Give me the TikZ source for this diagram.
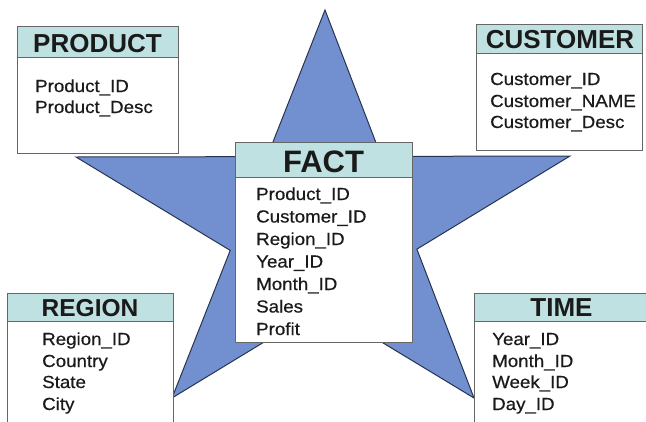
\documentclass[tikz,border=0pt]{standalone}
\usepackage{fontspec}
\setmainfont{Liberation Sans}
\newfontfamily\rowfont[FakeStretch=1.07,FakeBold=0.5]{Liberation Sans}
\definecolor{starfill}{HTML}{7290D0}
\definecolor{starline}{HTML}{28344F}
\definecolor{boxline}{HTML}{666666}
\definecolor{hdrfill}{HTML}{C0E1E1}
\definecolor{txt}{HTML}{1A1A1A}
\begin{document}
\begin{tikzpicture}[x=1pt,y=-1pt,
  tablebox/.style={draw=boxline, fill=white, line width=1.1pt, inner sep=0pt, anchor=north west},
  headbox/.style={draw=boxline, fill=hdrfill, line width=1.1pt, inner sep=0pt, anchor=north west},
  headtxt/.style={anchor=base, inner sep=0pt, text=txt, font=\bfseries\fontsize{#1}{#1}\selectfont},
  rowtxt/.style={anchor=base west, inner sep=0pt, text=txt, font=\rowfont\fontsize{17.5}{21}\selectfont}]
\useasboundingbox (0,0) rectangle (646,421);
\clip (0,0) rectangle (646,421);

% five outer points of the star
\coordinate (sT)  at (325,10);
\coordinate (sR)  at (570,156);
\coordinate (sBR) at (474,398);
\coordinate (sBL) at (172,398);
\coordinate (sL)  at (76,157);
% inner corners where the chords cross
\coordinate (iUR) at (intersection of sL--sR and sT--sBR);
\coordinate (iRL) at (intersection of sT--sBR and sR--sBL);
\coordinate (iB)  at (intersection of sR--sBL and sL--sBR);
\coordinate (iLL) at (intersection of sL--sBR and sT--sBL);
\coordinate (iUL) at (intersection of sT--sBL and sL--sR);
\draw[fill=starfill, draw=starline, line width=1pt, line join=miter]
  (sT) -- (iUR) -- (sR) -- (iRL) -- (sBR) -- (iB) -- (sBL) -- (iLL) -- (sL) -- (iUL) -- cycle;

% PRODUCT table
\node[tablebox, minimum width=161pt, minimum height=127pt] (product) at (17,26) {};
\node[headbox, minimum width=161pt, minimum height=31pt] (productHead) at (17,26) {};
\node[headtxt=26] (productTitle) at (97.5,52) {PRODUCT};
\node[rowtxt] (p1) at (35,92)  {Product\_ID};
\node[rowtxt] (p2) at (35,113) {Product\_Desc};

% CUSTOMER table
\node[tablebox, minimum width=166pt, minimum height=126pt] (customer) at (476,24) {};
\node[headbox, minimum width=166pt, minimum height=29pt] (customerHead) at (476,24) {};
\node[headtxt=26] (customerTitle) at (560,48) {CUSTOMER};
\node[rowtxt] (c1) at (490,85)  {Customer\_ID};
\node[rowtxt] (c2) at (490,107) {Customer\_NAME};
\node[rowtxt] (c3) at (490,128) {Customer\_Desc};

% FACT table
\node[tablebox, minimum width=177pt, minimum height=200pt] (fact) at (235,142) {};
\node[headbox, minimum width=177pt, minimum height=35pt] (factHead) at (235,142) {};
\node[headtxt=31] (factTitle) at (323.5,172) {FACT};
\node[rowtxt] (f1) at (256,200)   {Product\_ID};
\node[rowtxt] (f2) at (256,222.5) {Customer\_ID};
\node[rowtxt] (f3) at (256,245)   {Region\_ID};
\node[rowtxt] (f4) at (256,267.5) {Year\_ID};
\node[rowtxt] (f5) at (256,290)   {Month\_ID};
\node[rowtxt] (f6) at (256,312.5) {Sales};
\node[rowtxt] (f7) at (256,335)   {Profit};

% REGION table
\node[tablebox, minimum width=166pt, minimum height=140pt] (region) at (7,293) {};
\node[headbox, minimum width=166pt, minimum height=28pt] (regionHead) at (7,293) {};
\node[headtxt=24.5] (regionTitle) at (90,316) {REGION};
\node[rowtxt] (r1) at (42,345) {Region\_ID};
\node[rowtxt] (r2) at (42,367) {Country};
\node[rowtxt] (r3) at (42,388) {State};
\node[rowtxt] (r4) at (42,410) {City};

% TIME table
\node[tablebox, minimum width=176pt, minimum height=140pt] (time) at (474,293) {};
\node[headbox, minimum width=176pt, minimum height=28pt] (timeHead) at (474,293) {};
\node[headtxt=26] (timeTitle) at (561.5,316) {TIME};
\node[rowtxt] (t1) at (492,345) {Year\_ID};
\node[rowtxt] (t2) at (492,367) {Month\_ID};
\node[rowtxt] (t3) at (492,388) {Week\_ID};
\node[rowtxt] (t4) at (492,410) {Day\_ID};
\end{tikzpicture}
\end{document}
